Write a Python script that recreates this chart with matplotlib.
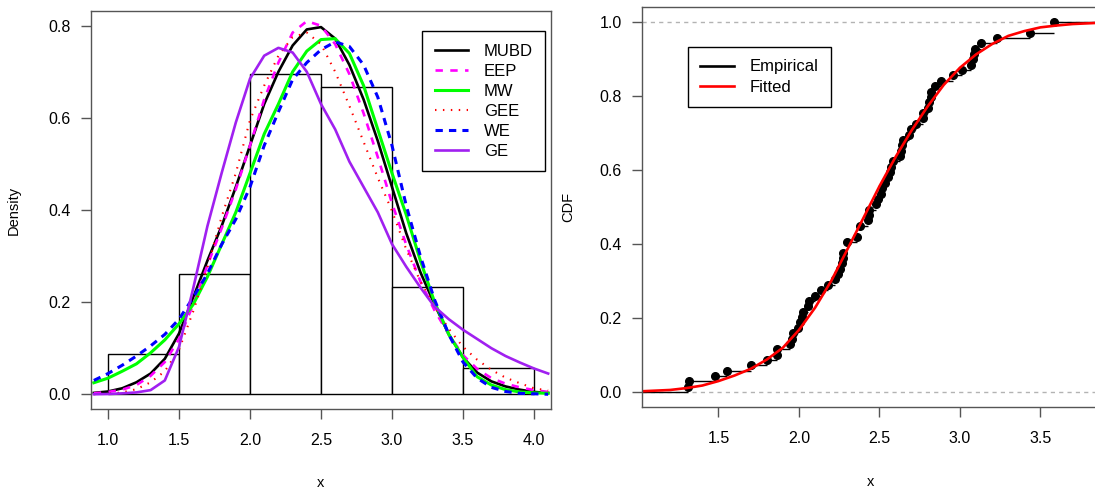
import numpy as np
import matplotlib
matplotlib.use("Agg")
import matplotlib.pyplot as plt

plt.rcParams['font.family'] = ['Liberation Sans', 'DejaVu Sans']

data = [1.312, 1.314, 1.479, 1.552, 1.700, 1.803, 1.861, 1.865, 1.944, 1.958,
        1.966, 1.997, 2.006, 2.021, 2.027, 2.055, 2.063, 2.098, 2.140, 2.179,
        2.224, 2.240, 2.253, 2.270, 2.272, 2.274, 2.301, 2.301, 2.359, 2.382,
        2.382, 2.426, 2.434, 2.435, 2.478, 2.490, 2.511, 2.514, 2.535, 2.554,
        2.566, 2.570, 2.586, 2.629, 2.633, 2.642, 2.648, 2.684, 2.697, 2.726,
        2.770, 2.773, 2.800, 2.809, 2.818, 2.821, 2.848, 2.880, 2.954, 3.012,
        3.067, 3.084, 3.090, 3.096, 3.128, 3.233, 3.433, 3.585, 3.585]
bins = [1.0, 1.5, 2.0, 2.5, 3.0, 3.5, 4.0]

# fitted densities, x = 0.9 .. 4.1 step 0.1
xgrid = [0.9, 1.0, 1.1, 1.2, 1.3, 1.4, 1.5, 1.6, 1.7, 1.8, 1.9, 2.0, 2.1,
         2.2, 2.3, 2.4, 2.5, 2.6, 2.7, 2.8, 2.9, 3.0, 3.1, 3.2, 3.3, 3.4,
         3.5, 3.6, 3.7, 3.8, 3.9, 4.0, 4.1]
mubd = [0.003, 0.006, 0.013, 0.026, 0.045, 0.077, 0.132, 0.21, 0.29, 0.365,
        0.45, 0.54, 0.63, 0.70, 0.757, 0.792, 0.797, 0.772, 0.715, 0.64,
        0.55, 0.45, 0.35, 0.265, 0.195, 0.13, 0.08, 0.047, 0.028, 0.017,
        0.01, 0.005, 0.003]
eep = [0.002, 0.005, 0.01, 0.02, 0.04, 0.07, 0.12, 0.195, 0.28, 0.36,
       0.445, 0.54, 0.64, 0.72, 0.785, 0.81, 0.80, 0.76, 0.695, 0.61,
       0.515, 0.415, 0.325, 0.245, 0.182, 0.13, 0.085, 0.055, 0.035, 0.023,
       0.015, 0.009, 0.005]
mw = [0.025, 0.035, 0.05, 0.066, 0.09, 0.118, 0.153, 0.195, 0.255, 0.325,
      0.395, 0.48, 0.565, 0.63, 0.70, 0.745, 0.77, 0.772, 0.74, 0.67,
      0.575, 0.48, 0.39, 0.29, 0.20, 0.13, 0.08, 0.038, 0.02, 0.01,
      0.005, 0.003, 0.002]
gee = [0.0, 0.001, 0.004, 0.011, 0.026, 0.05, 0.097, 0.18, 0.275, 0.385,
       0.48, 0.595, 0.67, 0.735, 0.775, 0.785, 0.76, 0.70, 0.626, 0.548,
       0.47, 0.398, 0.315, 0.245, 0.19, 0.142, 0.103, 0.075, 0.053, 0.036,
       0.024, 0.013, 0.008]
we = [0.03, 0.045, 0.063, 0.083, 0.105, 0.13, 0.163, 0.21, 0.262, 0.325,
      0.38, 0.45, 0.54, 0.613, 0.683, 0.72, 0.748, 0.765, 0.755, 0.715,
      0.645, 0.54, 0.41, 0.30, 0.205, 0.13, 0.07, 0.035, 0.015, 0.006,
      0.002, 0.001, 0.0]
ge = [0.0, 0.0005, 0.002, 0.004, 0.009, 0.03, 0.103, 0.23, 0.365, 0.48,
      0.59, 0.685, 0.735, 0.752, 0.742, 0.70, 0.63, 0.575, 0.505, 0.45,
      0.395, 0.326, 0.277, 0.232, 0.19, 0.163, 0.14, 0.12, 0.10, 0.083,
      0.069, 0.056, 0.045]

# fitted CDF (right panel), x = 1.0 .. 3.9
cgrid = [1.0, 1.1, 1.2, 1.3, 1.4, 1.5, 1.6, 1.7, 1.8, 1.9, 2.0, 2.1, 2.2,
         2.3, 2.4, 2.5, 2.6, 2.7, 2.8, 2.9, 3.0, 3.1, 3.2, 3.3, 3.4, 3.5,
         3.6, 3.7, 3.8, 3.9]
fitted = [0.002, 0.004, 0.006, 0.011, 0.018, 0.03, 0.045, 0.063, 0.088,
          0.12, 0.168, 0.228, 0.30, 0.385, 0.47, 0.556, 0.635, 0.707, 0.772,
          0.83, 0.876, 0.912, 0.94, 0.962, 0.975, 0.985, 0.99, 0.994, 0.996,
          0.998]

W, H = 1095, 488
fig = plt.figure(figsize=(W / 100, H / 100), dpi=100)
ax1 = fig.add_axes([91 / W, (H - 409) / H, 460 / W, 398 / H])
ax2 = fig.add_axes([642 / W, (H - 407) / H, 458 / W, 400 / H])

legend_kw = dict(loc='upper left', fontsize=12, fancybox=False, framealpha=1,
                 edgecolor='black', handlelength=2.0, handletextpad=0.95,
                 labelspacing=0.3, borderpad=0.75, borderaxespad=0)

# ---- left: histogram + densities
ax1.hist(data, bins=bins, density=True, facecolor='white', edgecolor='black', lw=1)
ax1.plot(xgrid, mubd, color='black', lw=1.9, label='MUBD')
ax1.plot(xgrid, eep, color='#FF00FF', lw=1.9, ls=(0, (2.8, 2.8)), label='EEP')
ax1.plot(xgrid, mw, color='#00FF00', lw=2.2, label='MW')
ax1.plot(xgrid, gee, color='#FF0000', lw=1.5, ls=(0, (0.7, 3.1)), label='GEE')
ax1.plot(xgrid, we, color='#0000FF', lw=2.2, ls=(0, (2.4, 2.0)), label='WE')
ax1.plot(xgrid, ge, color='#A020F0', lw=1.9, label='GE')
ax1.set_xlim(0.88, 4.12)
ax1.set_ylim(-0.032, 0.832)
ax1.set_xticks([1.0, 1.5, 2.0, 2.5, 3.0, 3.5, 4.0])
ax1.set_yticks([0.0, 0.2, 0.4, 0.6, 0.8])
ax1.set_xlabel('x', fontsize=10.5)
ax1.set_ylabel('Density', fontsize=10.5)
ax1.xaxis.set_label_coords(0.498, -0.168)
ax1.yaxis.set_label_coords(-0.152, 0.5)
leg1 = ax1.legend(bbox_to_anchor=(0.7196, 0.9497), **legend_kw)
leg1.get_frame().set_linewidth(1)

# ---- right: empirical vs fitted CDF
xs = np.sort(np.array(data))
knots, counts = np.unique(xs, return_counts=True)
Fk = np.cumsum(counts) / len(xs)
x_lo, x_hi = 1.025, 3.87
ax2.axhline(0, color='#B3B3B3', lw=1, ls=(0, (3, 3)))
ax2.axhline(1, color='#B3B3B3', lw=1, ls=(0, (3, 3)))
ax2.hlines(Fk, knots, np.append(knots[1:], x_hi + 1), color='black', lw=1)
ax2.hlines(0, x_lo - 1, knots[0], color='black', lw=1)
ax2.plot(knots, Fk, 'o', color='black', ms=5.5)
ax2.plot(cgrid, fitted, color='#FF0000', lw=1.9)
ax2.plot([], [], color='black', lw=1.9, label='Empirical')
ax2.plot([], [], color='#FF0000', lw=1.9, label='Fitted')
ax2.set_xlim(x_lo, x_hi)
ax2.set_ylim(-0.04, 1.04)
ax2.set_xticks([1.5, 2.0, 2.5, 3.0, 3.5])
ax2.set_yticks([0.0, 0.2, 0.4, 0.6, 0.8, 1.0])
ax2.set_xlabel('x', fontsize=10.5)
ax2.set_ylabel('CDF', fontsize=10.5)
ax2.xaxis.set_label_coords(0.5, -0.17)
ax2.yaxis.set_label_coords(-0.145, 0.5)
leg2 = ax2.legend(bbox_to_anchor=(0.1004, 0.900), **legend_kw)
leg2.get_frame().set_linewidth(1)

for ax in (ax1, ax2):
    for s in ax.spines.values():
        s.set_color('#555555')
        s.set_linewidth(1)
    ax.tick_params(direction='out', length=7.5, width=1, color='#555555',
                   labelsize=11.5)
    ax.tick_params(axis='x', pad=10)
    ax.tick_params(axis='y', pad=7)

fig.savefig('out.png', dpi=100)
